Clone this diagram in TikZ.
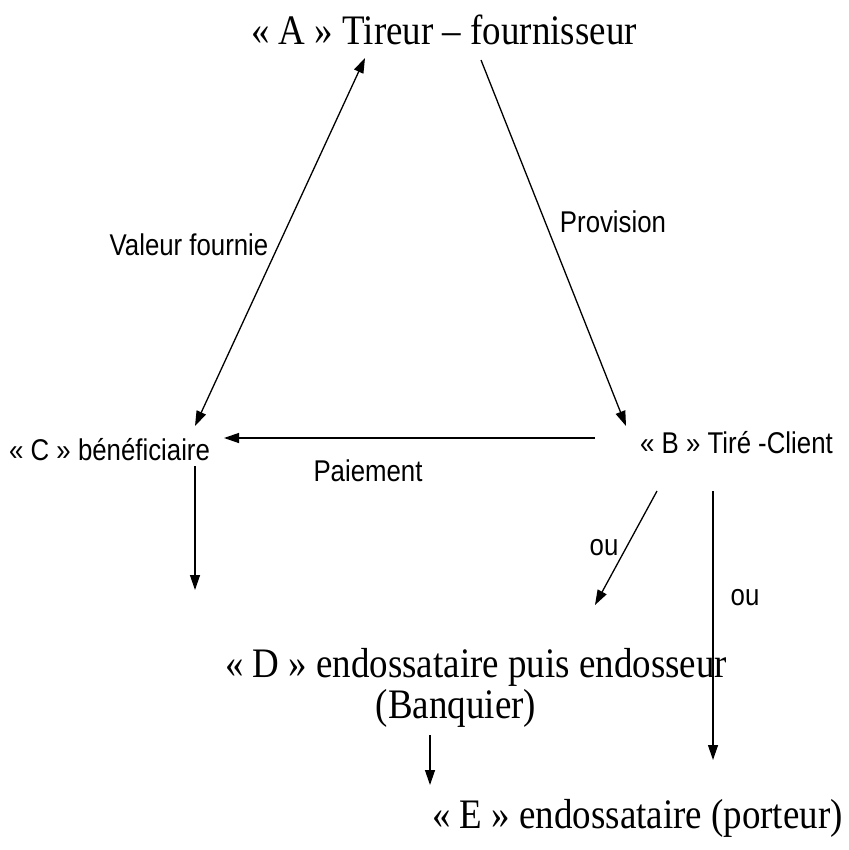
\documentclass[tikz,border=0pt]{standalone}
\usepackage{fontspec}
\setmainfont[FakeStretch=0.88]{Liberation Serif}
\newfontfamily\arialfont[FakeStretch=0.86]{Liberation Sans}
\usetikzlibrary{arrows.meta}

\begin{document}
\begin{tikzpicture}[x=1pt,y=-1pt]
\tikzstyle{every node}=[inner sep=0pt]
\tikzstyle{serif}=[font=\fontsize{42}{48}\selectfont]
\tikzstyle{sans}=[font=\arialfont\fontsize{30}{34}\selectfont]
\tikzstyle{fleche}=[line width=1.3pt,-{Triangle[length=15pt,width=10pt]}]
\tikzstyle{allerretour}=[line width=1.3pt,{Triangle[length=15pt,width=10pt]}-{Triangle[length=15pt,width=10pt]}]
\useasboundingbox (0,0) rectangle (848,850);
\draw (444,45) node (a) [serif,anchor=base] {« A » Tireur – fournisseur};
\draw (9,460) node (c) [sans,anchor=base west] {« C » bénéficiaire};
\draw (640,453) node (b) [sans,anchor=base west] {« B » Tiré -Client};
\draw (476,677) node (d) [serif,anchor=base] {« D » endossataire puis endosseur};
\draw (456,718) node (dbq) [serif,anchor=base] {(Banquier)};
\draw (432,828) node (e) [serif,anchor=base west] {« E » endossataire (porteur)};
% labels
\draw (189,245) node (lval) [sans] {Valeur fournie};
\draw (613,222) node (lprov) [sans] {Provision};
\draw (368,471) node (lpaie) [sans] {Paiement};
\draw (604,548) node (lou1) [sans] {ou};
\draw (745,598) node (lou2) [sans] {ou};
% arrow ends
\draw (365,58) coordinate (a1);
\draw (481,60) coordinate (a2);
\draw (195,426) coordinate (c1);
\draw (626,426) coordinate (b1);
\draw (595,438) coordinate (b2);
\draw (224,438) coordinate (c2);
\draw (195,466) coordinate (c3);
\draw (195,590) coordinate (c4);
\draw (657,491) coordinate (b3);
\draw (595,605) coordinate (d1);
\draw (713,491) coordinate (b4);
\draw (713,760) coordinate (e1);
\draw (430,735) coordinate (d2);
\draw (430,785) coordinate (e2);
\draw [allerretour] (c1) -- (a1);
\draw [fleche] (a2) -- (b1);
\draw [fleche] (b2) -- (c2);
\draw [fleche] (c3) -- (c4);
\draw [fleche] (b3) -- (d1);
\draw [fleche] (b4) -- (e1);
\draw [fleche] (d2) -- (e2);
\end{tikzpicture}
\end{document}
